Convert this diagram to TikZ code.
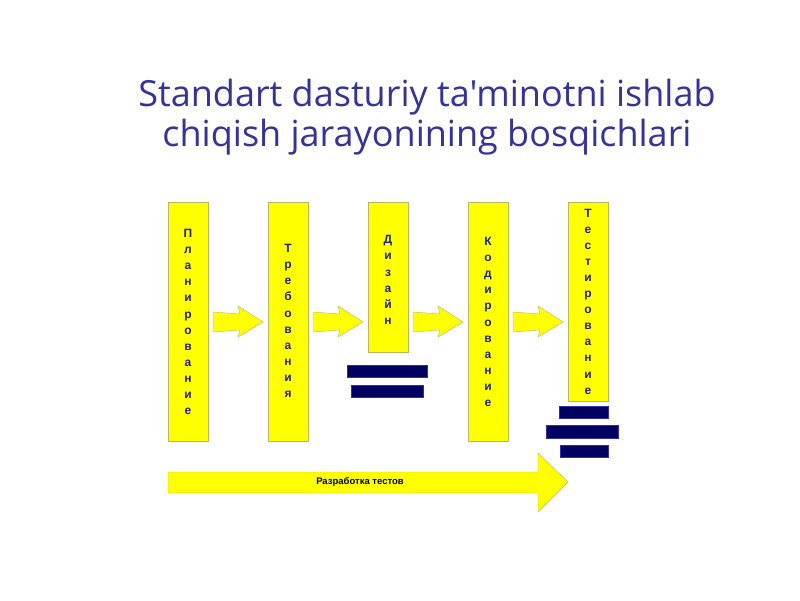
\documentclass[tikz,border=0pt]{standalone}
\usepackage{fontspec}
\setmainfont{Liberation Sans}
\newfontfamily\titlefont{Open Sans}
\definecolor{titleblue}{HTML}{333399}
\definecolor{stepyellow}{HTML}{FFFF00}
\definecolor{stepedge}{HTML}{B8B860}
\definecolor{letterblue}{HTML}{20208C}
\definecolor{barnavy}{HTML}{000060}
\definecolor{baredge}{HTML}{3030A0}
\tikzset{
  stepbox/.style={fill=stepyellow, draw=stepedge, line width=0.6pt},
  vtext/.style={font=\bfseries\fontsize{12}{16.1}\selectfont, text=letterblue, align=center, inner sep=0pt},
  smallarrow/.style={fill=stepyellow, draw=stepedge, line width=0.4pt},
  navybar/.style={fill=barnavy, draw=baredge, line width=0.6pt},
}
\begin{document}
\begin{tikzpicture}[x=1pt,y=-1pt]
\useasboundingbox (0,0) rectangle (800,600);
\fill[white] (0,0) rectangle (800,600);
% title
\node[font=\titlefont\fontsize{36}{40}\selectfont, text=titleblue, align=center] (title) at (427,117)
  {Standart dasturiy ta'minotni ishlab\\chiqish jarayonining bosqichlari};
% step boxes
\path[stepbox] (168,202) rectangle (208,441);
\path[stepbox] (268,202) rectangle (308,441);
\path[stepbox] (368,202) rectangle (408,352);
\path[stepbox] (468,202) rectangle (508,441);
\path[stepbox] (568,202) rectangle (608,401);
\node[vtext] (s1) at (188,322) {П\\л\\а\\н\\и\\р\\о\\в\\а\\н\\и\\е};
\node[vtext] (s2) at (288,321) {Т\\р\\е\\б\\о\\в\\а\\н\\и\\я};
\node[vtext] (s3) at (388,280) {Д\\и\\з\\а\\й\\н};
\node[vtext] (s4) at (488,322) {К\\о\\д\\и\\р\\о\\в\\а\\н\\и\\е};
\node[vtext] (s5) at (588,301.5) {Т\\е\\с\\т\\и\\р\\о\\в\\а\\н\\и\\е};
% small arrows
\foreach \dx in {0,100,200,300}{
  \path[smallarrow, xshift=\dx] (213,312) -- (240,314) -- (238,306) -- (263,322) -- (238,337) -- (240,330) -- (213,332) -- cycle;
}
% navy bars
\path[navybar] (347,365) rectangle (427,377);
\path[navybar] (351,385) rectangle (423,397);
\path[navybar] (559,406) rectangle (608,418);
\path[navybar] (546,425) rectangle (618,438);
\path[navybar] (560,445) rectangle (608,457);
% big arrow
\path[fill=stepyellow, draw=stepedge, line width=0.4pt] (168,472) -- (538,472) -- (538,453) -- (568,482) -- (538,512) -- (538,493) -- (168,493) -- cycle;
\node[font=\bfseries\fontsize{9.5}{12}\selectfont, text=black] (bigtext) at (360,482) {Разработка тестов};
\end{tikzpicture}
\end{document}
